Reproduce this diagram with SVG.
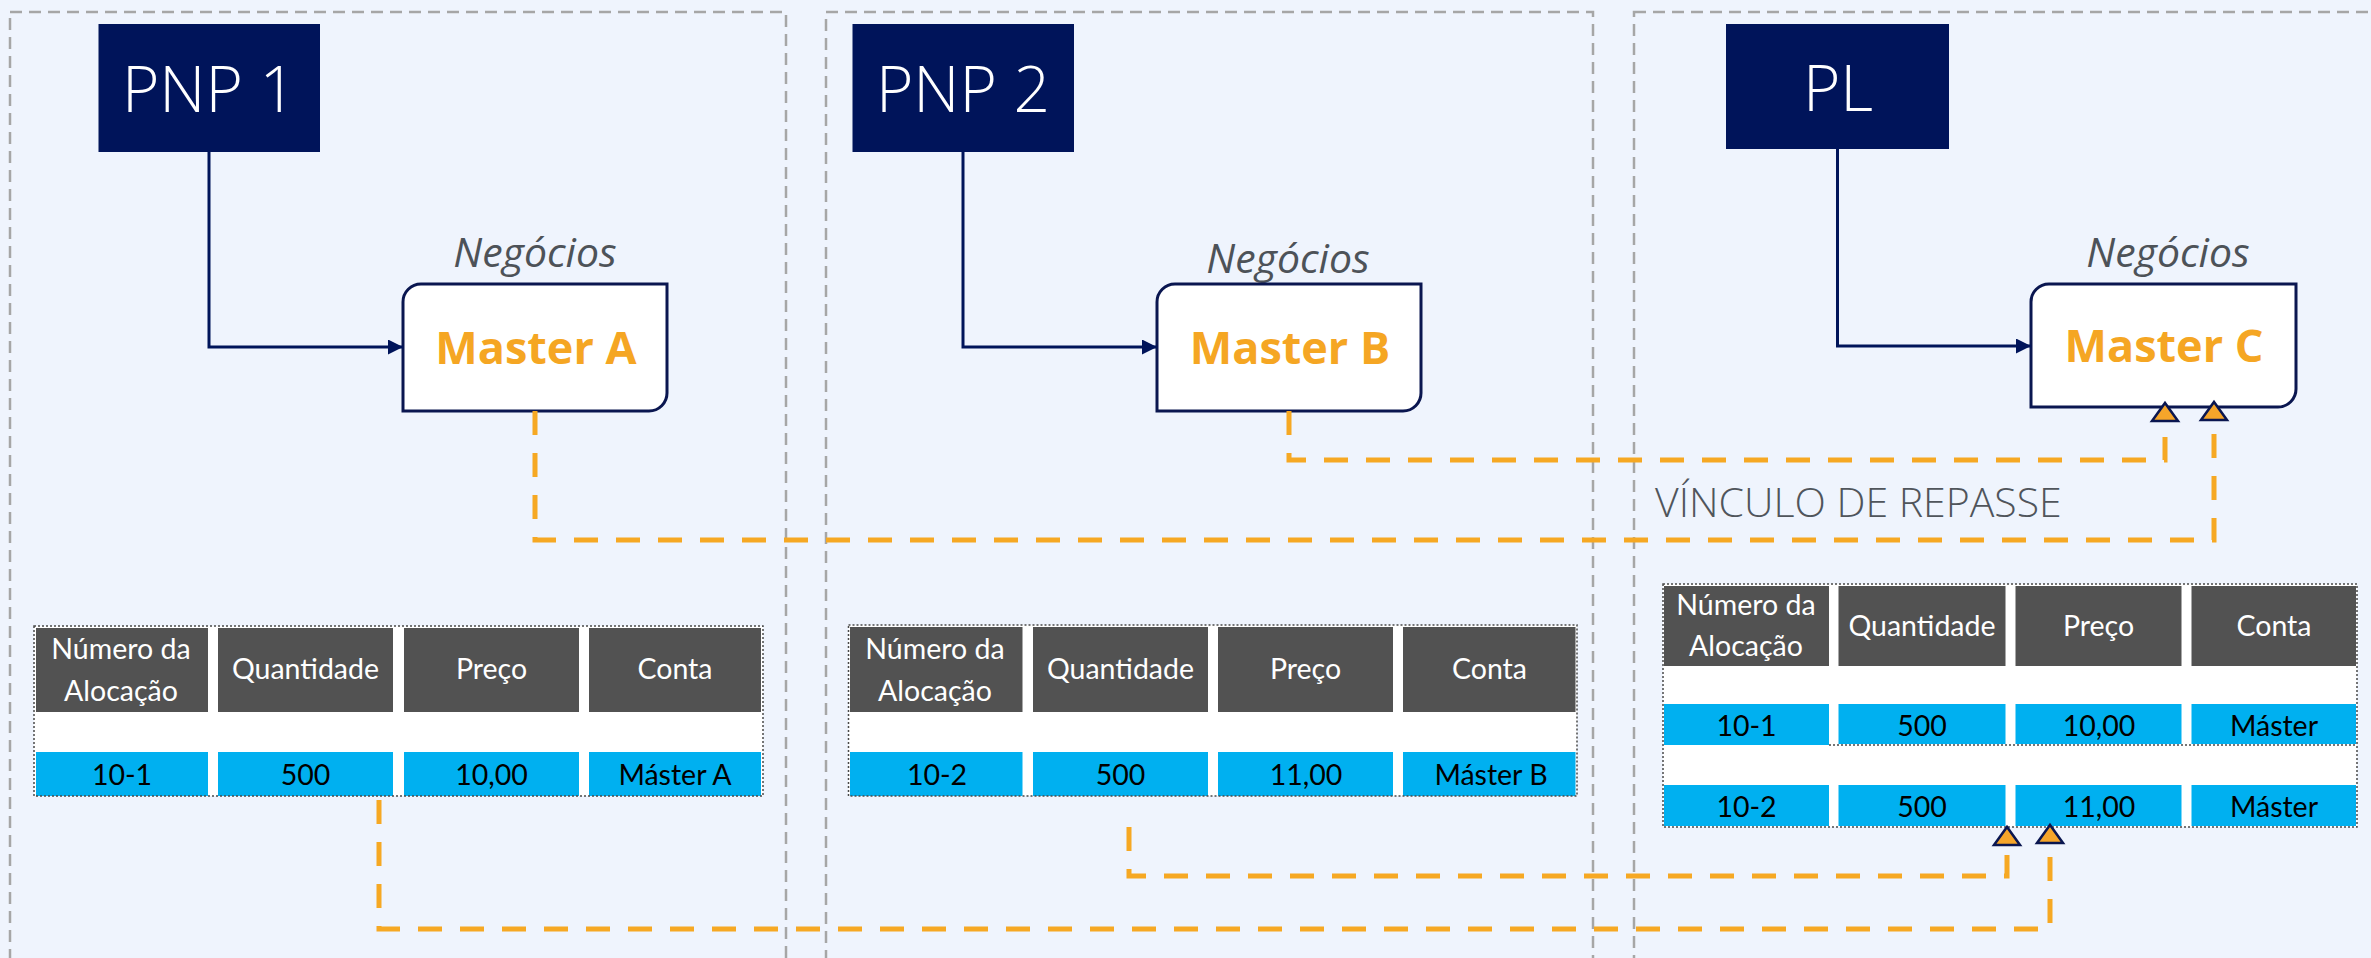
<svg xmlns="http://www.w3.org/2000/svg" width="2371" height="958" viewBox="0 0 2371 958">
<defs>
<style>
.bg{fill:#EFF4FD}
.panel{fill:none;stroke:#A6A6A6;stroke-width:2.5;stroke-dasharray:12 7}
.pnp{fill:#00145A}
.pnpt{font-family:"Open Sans","Noto Sans",sans-serif;font-weight:300;font-size:64px;fill:#FFFFFF;text-anchor:middle}
.master{fill:#FFFFFF;stroke:#0A1650;stroke-width:3}
.neg{font-family:"Open Sans","Noto Sans",sans-serif;font-style:italic;font-size:41px;fill:#4D5258;text-anchor:middle}
.mt{font-family:"Open Sans","Noto Sans",sans-serif;font-weight:bold;font-size:45px;fill:#F5A623;text-anchor:middle}
.nav{fill:none;stroke:#00145A;stroke-width:3}
.link{fill:none;stroke:#F6A823;stroke-width:5;stroke-dasharray:24 18}
.tbl{fill:#FFFFFF}
.tbo{fill:none;stroke:#4A4A4A;stroke-width:1.5;stroke-dasharray:2 2}
.hd{fill:#525252}
.dc{fill:#00B0F0}
.th{font-family:Lato,"Liberation Sans",sans-serif;font-size:28.5px;fill:#FFFFFF;text-anchor:middle}
.td{font-family:Lato,"Liberation Sans",sans-serif;font-size:28.5px;fill:#000000;text-anchor:middle}
.lbl{font-family:"Open Sans","Noto Sans",sans-serif;font-weight:300;font-size:41px;fill:#50555B}
</style>
<marker id="navArrow" markerUnits="userSpaceOnUse" viewBox="0 0 15 15" markerWidth="15" markerHeight="15" refX="15" refY="7.5" orient="auto">
<path d="M0,0 L15,7.5 L0,15 Z" fill="#00145A"/>
</marker>
<marker id="tri" markerUnits="userSpaceOnUse" viewBox="-3 -3 25 32" markerWidth="25" markerHeight="32" refX="0" refY="13" orient="auto">
<polygon points="0,0 18,13 0,26" fill="#F5A52A" stroke="#0A1650" stroke-width="2.5" stroke-dasharray="none"/>
</marker>
</defs>

<rect class="bg" x="0" y="0" width="2371" height="958"/>

<g id="panels">
<rect class="panel" x="10" y="12" width="776" height="1000"/>
<rect class="panel" x="826" y="12" width="767" height="1000"/>
<rect class="panel" x="1634" y="12" width="760" height="1000"/>
</g>

<g id="pnp1">
<rect class="pnp" x="98.5" y="24" width="221.5" height="128"/>
<text class="pnpt" x="209" y="112">PNP 1</text>
</g>
<g id="pnp2">
<rect class="pnp" x="852.5" y="24" width="221.5" height="128"/>
<text class="pnpt" x="963" y="112">PNP 2</text>
</g>
<g id="pl">
<rect class="pnp" x="1726" y="24" width="223" height="125"/>
<text class="pnpt" x="1838" y="111">PL</text>
</g>

<g id="masterA">
<text class="neg" x="535" y="267">Negócios</text>
<path class="master" d="M421,284 H667 V393 A18,18 0 0 1 649,411 H403 V302 A18,18 0 0 1 421,284 Z"/>
<text class="mt" x="536" y="364">Master A</text>
</g>
<g id="masterB">
<text class="neg" x="1288" y="273">Negócios</text>
<path class="master" d="M1175,284 H1421 V393 A18,18 0 0 1 1403,411 H1157 V302 A18,18 0 0 1 1175,284 Z"/>
<text class="mt" x="1290" y="364">Master B</text>
</g>
<g id="masterC">
<text class="neg" x="2168" y="267">Negócios</text>
<path class="master" d="M2049,284 H2296 V389 A18,18 0 0 1 2278,407 H2031 V302 A18,18 0 0 1 2049,284 Z"/>
<text class="mt" x="2164" y="362">Master C</text>
</g>

<g id="table1">
<rect class="tbl" x="34" y="626" width="729" height="170"/>
<rect class="hd" x="36" y="628" width="172" height="84"/>
<rect class="hd" x="218" y="628" width="175" height="84"/>
<rect class="hd" x="404" y="628" width="175" height="84"/>
<rect class="hd" x="589" y="628" width="172" height="84"/>
<rect class="dc" x="36" y="752" width="172" height="44"/>
<rect class="dc" x="218" y="752" width="175" height="44"/>
<rect class="dc" x="404" y="752" width="175" height="44"/>
<rect class="dc" x="589" y="752" width="172" height="44"/>
<rect class="tbo" x="34" y="626" width="729" height="170"/>
<text class="th" x="121" y="659">Número da</text>
<text class="th" x="121" y="701">Alocação</text>
<text class="th" x="305.5" y="679">Quantidade</text>
<text class="th" x="491.5" y="679">Preço</text>
<text class="th" x="675" y="679">Conta</text>
<text class="td" x="122" y="785">10-1</text>
<text class="td" x="305.5" y="785">500</text>
<text class="td" x="491.5" y="785">10,00</text>
<text class="td" x="675" y="785">Máster A</text>
</g>

<g id="table2">
<rect class="tbl" x="848.5" y="625" width="728.5" height="171"/>
<rect class="hd" x="850" y="627" width="172.5" height="85"/>
<rect class="hd" x="1033" y="627" width="175" height="85"/>
<rect class="hd" x="1218" y="627" width="175" height="85"/>
<rect class="hd" x="1403" y="627" width="172.5" height="85"/>
<rect class="dc" x="850" y="752" width="172.5" height="44"/>
<rect class="dc" x="1033" y="752" width="175" height="44"/>
<rect class="dc" x="1218" y="752" width="175" height="44"/>
<rect class="dc" x="1403" y="752" width="172.5" height="44"/>
<rect class="tbo" x="848.5" y="625" width="728.5" height="171"/>
<text class="th" x="935" y="659">Número da</text>
<text class="th" x="935" y="701">Alocação</text>
<text class="th" x="1120.5" y="679">Quantidade</text>
<text class="th" x="1305.5" y="679">Preço</text>
<text class="th" x="1489.5" y="679">Conta</text>
<text class="td" x="937" y="785">10-2</text>
<text class="td" x="1120.5" y="785">500</text>
<text class="td" x="1306" y="785">11,00</text>
<text class="td" x="1491" y="785">Máster B</text>
</g>

<g id="table3">
<rect class="tbl" x="1663" y="584" width="694" height="243"/>
<rect class="hd" x="1664" y="586" width="165" height="80"/>
<rect class="hd" x="1838.5" y="586" width="167" height="80"/>
<rect class="hd" x="2015.5" y="586" width="166" height="80"/>
<rect class="hd" x="2191.5" y="586" width="164.5" height="80"/>
<rect class="dc" x="1664" y="704" width="165" height="41"/>
<rect class="dc" x="1838.5" y="704" width="167" height="40"/>
<rect class="dc" x="2015.5" y="704" width="166" height="40"/>
<rect class="dc" x="2191.5" y="704" width="164.5" height="40"/>
<rect class="dc" x="1664" y="785" width="165" height="41"/>
<rect class="dc" x="1838.5" y="785" width="167" height="41"/>
<rect class="dc" x="2015.5" y="785" width="166" height="41"/>
<rect class="dc" x="2191.5" y="785" width="164.5" height="41"/>
<rect class="tbo" x="1663" y="584" width="694" height="243"/>
<line class="tbo" x1="1829" y1="745" x2="2357" y2="745"/>
<text class="th" x="1746" y="615">Número da</text>
<text class="th" x="1746" y="656">Alocação</text>
<text class="th" x="1922" y="636">Quantidade</text>
<text class="th" x="2098.5" y="636">Preço</text>
<text class="th" x="2274" y="636">Conta</text>
<text class="td" x="1746.5" y="736">10-1</text>
<text class="td" x="1922" y="736">500</text>
<text class="td" x="2099" y="736">10,00</text>
<text class="td" x="2274" y="736">Máster</text>
<text class="td" x="1746.5" y="817">10-2</text>
<text class="td" x="1922" y="817">500</text>
<text class="td" x="2099" y="817">11,00</text>
<text class="td" x="2274" y="817">Máster</text>
</g>

<g id="connectors">
<path class="nav" d="M209,152 V347 H403" marker-end="url(#navArrow)"/>
<path class="nav" d="M963,152 V347 H1157" marker-end="url(#navArrow)"/>
<path class="nav" d="M1837.5,149 V346 H2031" marker-end="url(#navArrow)"/>
<path class="link" d="M1289,411 V460 H2165 V421" marker-end="url(#tri)"/>
<path class="link" d="M535,411 V540 H2214 V420" marker-end="url(#tri)"/>
<path class="link" d="M379,800 V929 H2050 V843" marker-end="url(#tri)"/>
<path class="link" d="M1129,827 V876 H2007 V845" marker-end="url(#tri)"/>
</g>

<text class="lbl" x="1655" y="517">VÍNCULO DE REPASSE</text>
</svg>
